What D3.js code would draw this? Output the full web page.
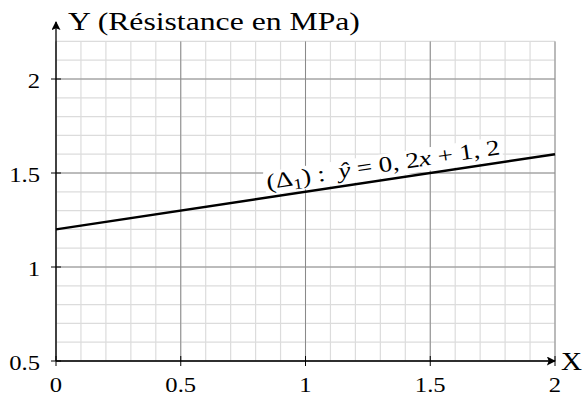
<!DOCTYPE html>
<html lang="fr">
<head>
<meta charset="UTF-8">
<title>Droite de régression</title>
<script src="https://d3js.org/d3.v7.min.js"></script>
<style>
  body { margin: 0; background: #fff; }
</style>
</head>
<body>
<svg width="585" height="398"></svg>
<script>
// x range and ticks
const xDomain = [0, 2];
const xTicks = [0, 0.5, 1, 1.5, 2];
const xTickLabels = ["0", "0.5", "1", "1.5", "2"];
// y range and ticks
const yDomain = [0.5, 2.2];
const yTicks = [0.5, 1, 1.5, 2];
const yTickLabels = ["0.5", "1", "1.5", "2"];
// regression line y = 0.2x + 1.2
const lineX = [0, 2];
const slope = 0.2;
const intercept = 1.2;

const serif = "'Liberation Serif', 'DejaVu Serif', 'Times New Roman', serif";
const wide = 1.12; // CM digits are wider than Times

const svg = d3.select("svg");
const x = d3.scaleLinear().domain(xDomain).range([56, 555]);
const y = d3.scaleLinear().domain(yDomain).range([361, 41.4]);

const g = svg.append("g").attr("font-family", serif);

// minor grid
const minorX = d3.range(0, 2.0001, 0.1);
const minorY = d3.range(0.5, 2.2001, 0.1);
g.selectAll(".mx").data(minorX).enter().append("line")
  .attr("x1", d => x(d)).attr("x2", d => x(d))
  .attr("y1", y(yDomain[0])).attr("y2", y(yDomain[1]))
  .attr("stroke", "#dcdcdc").attr("stroke-width", 1.2);
g.selectAll(".my").data(minorY).enter().append("line")
  .attr("x1", x(xDomain[0])).attr("x2", x(xDomain[1]))
  .attr("y1", d => y(d)).attr("y2", d => y(d))
  .attr("stroke", "#dcdcdc").attr("stroke-width", 1.2);

// major grid
g.selectAll(".Mx").data(xTicks).enter().append("line")
  .attr("x1", d => x(d)).attr("x2", d => x(d))
  .attr("y1", y(yDomain[0])).attr("y2", y(yDomain[1]))
  .attr("stroke", "#8a8a8a").attr("stroke-width", 1);
g.selectAll(".My").data(yTicks).enter().append("line")
  .attr("x1", x(xDomain[0])).attr("x2", x(xDomain[1]))
  .attr("y1", d => y(d)).attr("y2", d => y(d))
  .attr("stroke", "#8a8a8a").attr("stroke-width", 1);

// arrow marker
svg.append("defs").append("marker")
  .attr("id", "arr").attr("viewBox", "0 0 10 10")
  .attr("refX", 9).attr("refY", 5)
  .attr("markerWidth", 10).attr("markerHeight", 9)
  .attr("markerUnits", "userSpaceOnUse")
  .attr("orient", "auto")
  .append("path").attr("d", "M0,0 L10,5 L0,10 L2,5 Z").attr("fill", "#000");

// axes
g.append("line")
  .attr("x1", x(0)).attr("x2", x(2))
  .attr("y1", y(0.5)).attr("y2", y(0.5))
  .attr("stroke", "#000").attr("stroke-width", 1.3)
  .attr("marker-end", "url(#arr)");
g.append("line")
  .attr("x1", x(0)).attr("x2", x(0))
  .attr("y1", y(0.5)).attr("y2", 22)
  .attr("stroke", "#000").attr("stroke-width", 1.3)
  .attr("marker-end", "url(#arr)");

// ticks
g.selectAll(".tx").data(xTicks).enter().append("line")
  .attr("x1", d => x(d)).attr("x2", d => x(d))
  .attr("y1", y(0.5) - 5).attr("y2", y(0.5) + 5)
  .attr("stroke", "#000").attr("stroke-width", 1);
g.selectAll(".ty").data(yTicks).enter().append("line")
  .attr("x1", x(0) - 5).attr("x2", x(0) + 5)
  .attr("y1", d => y(d)).attr("y2", d => y(d))
  .attr("stroke", "#000").attr("stroke-width", 1);

// tick labels
g.selectAll(".lx").data(xTicks).enter().append("text")
  .attr("transform", d => `translate(${x(d)},${y(0.5) + 31}) scale(${wide},1)`)
  .attr("text-anchor", "middle").attr("font-size", 22)
  .text((d, i) => xTickLabels[i]);
g.selectAll(".ly").data(yTicks).enter().append("text")
  .attr("transform", d => `translate(${x(0) - 16},${y(d) + 8.5}) scale(${wide},1)`)
  .attr("text-anchor", "end").attr("font-size", 22)
  .text((d, i) => yTickLabels[i]);

// axis titles (CM glyphs are wider than Times, so stretch horizontally)
const titleG = g.append("g");
const yTitle = titleG.append("text").attr("font-size", 26).text("Y (Résistance en MPa)");
const kt = 292 / yTitle.node().getComputedTextLength();
titleG.attr("transform", `translate(68,30) scale(${kt},1)`);
g.append("text").attr("transform", `translate(561,370) scale(${wide},1)`)
  .attr("font-size", 26).text("X");

// regression line
g.append("line")
  .attr("x1", x(lineX[0])).attr("x2", x(lineX[1]))
  .attr("y1", y(slope * lineX[0] + intercept))
  .attr("y2", y(slope * lineX[1] + intercept))
  .attr("stroke", "#000").attr("stroke-width", 2.4);

// label along the line
const lx = 1.32;
const px = x(lx), py = y(slope * lx + intercept);
const ang = Math.atan2(y(slope * 2 + intercept) - y(intercept), x(2) - x(0)) * 180 / Math.PI;
const lab = g.append("g").attr("transform", `translate(${px},${py}) rotate(${ang})`);
const bg = lab.append("rect").attr("fill", "#fff");
const inner = lab.append("g");
const t = inner.append("text").attr("x", 0).attr("y", -8)
  .attr("text-anchor", "middle").attr("font-size", 22);
t.append("tspan").text("(Δ");
t.append("tspan").attr("font-size", 15).attr("dy", 4).text("1");
t.append("tspan").attr("dy", -4).text(") :\u2002");
t.append("tspan").attr("font-style", "italic").text("ŷ");
t.append("tspan").text(" = 0, 2");
t.append("tspan").attr("font-style", "italic").text("x");
t.append("tspan").text(" + 1, 2");
const kl = 236 / t.node().getComputedTextLength();
inner.attr("transform", `scale(${kl},1)`);
const bb = t.node().getBBox();
bg.attr("x", bb.x * kl - 2).attr("y", bb.y + 2).attr("width", bb.width * kl + 4).attr("height", bb.height - 4);
</script>
</body>
</html>
